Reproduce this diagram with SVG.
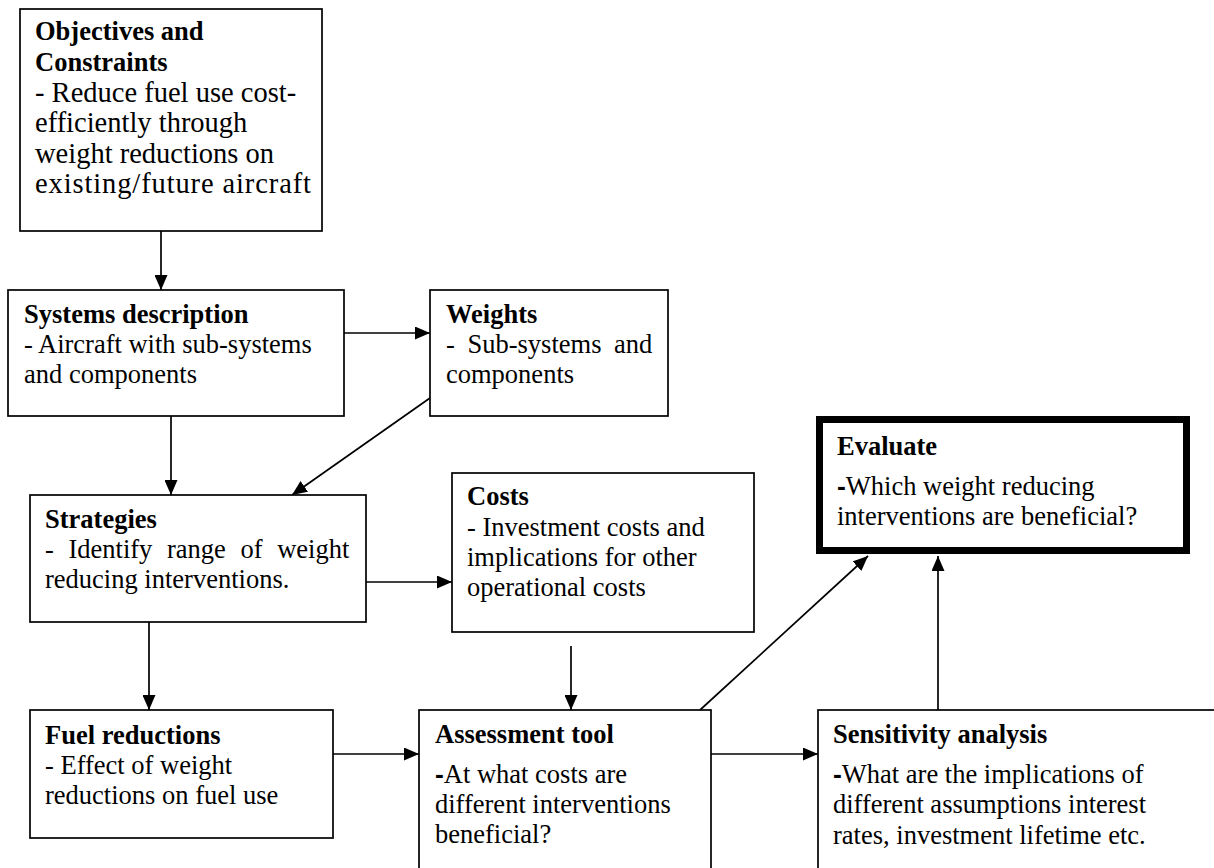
<svg xmlns="http://www.w3.org/2000/svg" width="1214" height="868" viewBox="0 0 1214 868">
<style>
  .box{fill:#fff;stroke:#000;stroke-width:1.7}
  .thick{fill:#fff;stroke:#000;stroke-width:7}
  text{font-family:"Liberation Serif","Times New Roman",serif;font-size:26.5px;fill:#000}
  .h{font-weight:bold}
  .ob{font-size:28.5px}
  .d{font-family:"Liberation Sans",Arial,sans-serif;font-weight:bold}
  .c{stroke:#000;stroke-width:1.7;fill:none;marker-end:url(#ah)}
</style>
<defs>
  <marker id="ah" markerUnits="userSpaceOnUse" viewBox="0 0 15 13" markerWidth="15" markerHeight="13" refX="15" refY="6.5" orient="auto">
    <path d="M0,0 L15,6.5 L0,13 z" fill="#000"/>
  </marker>
</defs>
<rect width="1214" height="868" fill="#fff"/>

<g id="connectors">
  <line class="c" x1="161" y1="231" x2="161" y2="290"/>
  <line class="c" x1="344" y1="333" x2="430" y2="333"/>
  <line class="c" x1="171" y1="416" x2="171" y2="495"/>
  <line class="c" x1="430" y1="398" x2="292" y2="495"/>
  <line class="c" x1="366" y1="582" x2="452" y2="582"/>
  <line class="c" x1="149" y1="622" x2="149" y2="710"/>
  <line class="c" x1="571" y1="646" x2="571" y2="710"/>
  <line class="c" x1="333" y1="754" x2="419" y2="754"/>
  <line class="c" x1="711" y1="754" x2="818" y2="754"/>
  <line class="c" x1="700" y1="710" x2="868" y2="556"/>
  <line class="c" x1="938" y1="710" x2="938" y2="556"/>
</g>

<g id="objectives">
  <rect class="box" x="20" y="9" width="302" height="222"/>
  <text x="35" y="40" class="h">Objectives and</text>
  <text x="35" y="71" class="h">Constraints</text>
  <text x="35" y="101.5" class="ob">- Reduce fuel use cost-</text>
  <text x="35" y="132" class="ob">efficiently through</text>
  <text x="35" y="162.5" class="ob">weight reductions on</text>
  <text x="35" y="193" class="ob" textLength="276" lengthAdjust="spacing">existing/future aircraft</text>
</g>

<g id="systems">
  <rect class="box" x="8" y="290" width="336" height="126"/>
  <text x="24" y="323" class="h">Systems description</text>
  <text x="24" y="353">- Aircraft with sub-systems</text>
  <text x="24" y="383">and components</text>
</g>

<g id="weights">
  <rect class="box" x="430" y="290" width="238" height="126"/>
  <text x="446" y="323" class="h">Weights</text>
  <text x="446" y="353" word-spacing="6">- Sub-systems and</text>
  <text x="446" y="383">components</text>
</g>

<g id="strategies">
  <rect class="box" x="30" y="495" width="336" height="127"/>
  <text x="45" y="528" class="h">Strategies</text>
  <text x="45" y="558" word-spacing="8">- Identify range of weight</text>
  <text x="45" y="588">reducing interventions.</text>
</g>

<g id="costs">
  <rect class="box" x="452" y="473" width="302" height="159"/>
  <text x="467" y="505" class="h">Costs</text>
  <text x="467" y="536">- Investment costs and</text>
  <text x="467" y="566">implications for other</text>
  <text x="467" y="596">operational costs</text>
</g>

<g id="fuel">
  <rect class="box" x="30" y="710" width="303" height="128"/>
  <text x="45" y="744" class="h">Fuel reductions</text>
  <text x="45" y="774">- Effect of weight</text>
  <text x="45" y="804">reductions on fuel use</text>
</g>

<g id="assessment">
  <rect class="box" x="419" y="710" width="292" height="170"/>
  <text x="435" y="743" class="h">Assessment tool</text>
  <text x="435" y="783"><tspan class="d">-</tspan>At what costs are</text>
  <text x="435" y="813">different interventions</text>
  <text x="435" y="843">beneficial?</text>
</g>

<g id="sensitivity">
  <rect class="box" x="818" y="710" width="420" height="170"/>
  <text x="833" y="743" class="h">Sensitivity analysis</text>
  <text x="833" y="783"><tspan class="d">-</tspan>What are the implications of</text>
  <text x="833" y="813">different assumptions interest</text>
  <text x="833" y="844">rates, investment lifetime etc.</text>
</g>

<g id="evaluate">
  <rect class="thick" x="819.5" y="419.5" width="367" height="131"/>
  <text x="837" y="455" class="h">Evaluate</text>
  <text x="837" y="495"><tspan class="d">-</tspan>Which weight reducing</text>
  <text x="837" y="525">interventions are beneficial?</text>
</g>
</svg>
